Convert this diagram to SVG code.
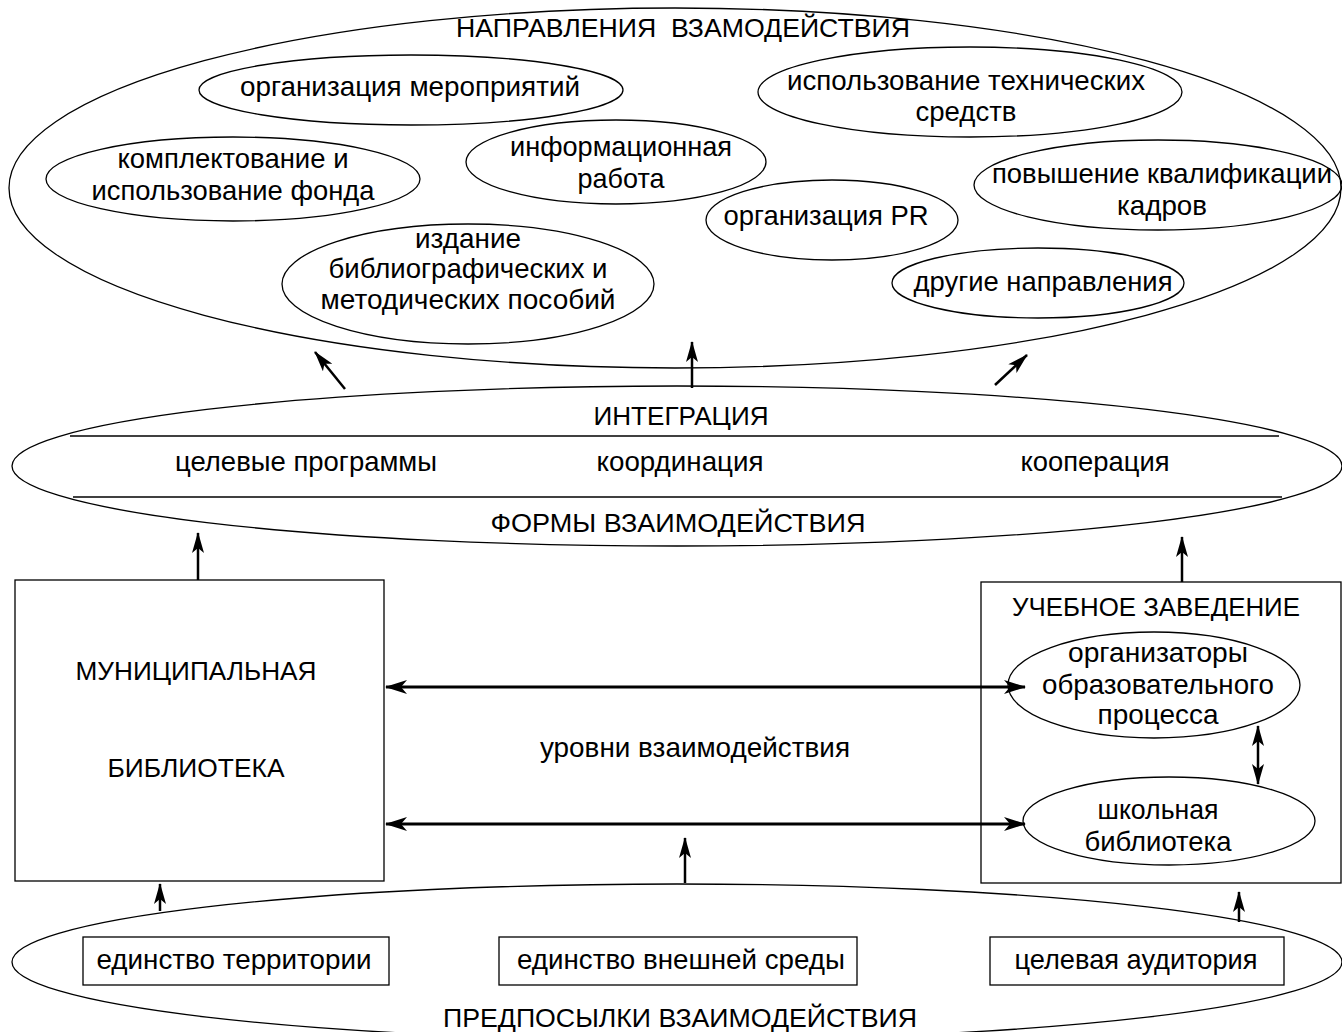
<svg xmlns="http://www.w3.org/2000/svg" width="1342" height="1032" viewBox="0 0 1342 1032">
<style>
.o{fill:none;stroke:#000;stroke-width:1.3}
.b{fill:#fff;stroke:#000;stroke-width:1.3}
text{font-family:"Liberation Sans",Arial,sans-serif;font-size:28px;fill:#000;text-anchor:middle}
.c{font-size:25px}
.a{fill:none;stroke:#000;stroke-width:2.5}
.h{fill:none;stroke:#000;stroke-width:3.2}
</style>
<defs>
<marker id="ar" viewBox="0 0 21 12" refX="20" refY="6" markerWidth="21" markerHeight="12" markerUnits="userSpaceOnUse" orient="auto-start-reverse">
<path d="M21,6 L0,0 L5,6 L0,12 z" fill="#000"/>
</marker>
<marker id="arh" viewBox="0 0 22 14" refX="21" refY="7" markerWidth="22" markerHeight="14" markerUnits="userSpaceOnUse" orient="auto-start-reverse">
<path d="M22,7 L0,0 L6,7 L0,14 z" fill="#000"/>
</marker>
</defs>

<g id="directions">
<ellipse class="o" cx="675" cy="188" rx="666" ry="180"/>
<text class="c" x="683" y="37" textLength="454" lengthAdjust="spacingAndGlyphs" xml:space="preserve">НАПРАВЛЕНИЯ  ВЗАМОДЕЙСТВИЯ</text>
</g>
<g id="d-events">
<ellipse class="o" cx="411" cy="90" rx="212" ry="35"/>
<text x="410" y="96" textLength="340" lengthAdjust="spacingAndGlyphs">организация мероприятий</text>
</g>
<g id="d-tech">
<ellipse class="o" cx="970" cy="92" rx="212" ry="45"/>
<text x="966" y="90" textLength="358" lengthAdjust="spacingAndGlyphs">использование технических</text>
<text x="966" y="121" textLength="101" lengthAdjust="spacingAndGlyphs">средств</text>
</g>
<g id="d-fund">
<ellipse class="o" cx="233" cy="179" rx="187" ry="42"/>
<text x="233" y="168" textLength="231" lengthAdjust="spacingAndGlyphs">комплектование и</text>
<text x="233" y="200" textLength="283" lengthAdjust="spacingAndGlyphs">использование фонда</text>
</g>
<g id="d-info">
<ellipse class="o" cx="616" cy="162" rx="150" ry="42"/>
<text x="621" y="156" textLength="222" lengthAdjust="spacingAndGlyphs">информационная</text>
<text x="621" y="188" textLength="87" lengthAdjust="spacingAndGlyphs">работа</text>
</g>
<g id="d-qual">
<ellipse class="o" cx="1158" cy="185" rx="184" ry="45"/>
<text x="1162" y="183" textLength="340" lengthAdjust="spacingAndGlyphs">повышение квалификации</text>
<text x="1162" y="215" textLength="90" lengthAdjust="spacingAndGlyphs">кадров</text>
</g>
<g id="d-pr">
<ellipse class="o" cx="832" cy="220" rx="126" ry="40"/>
<text x="826" y="225" textLength="205" lengthAdjust="spacingAndGlyphs">организация PR</text>
</g>
<g id="d-publ">
<ellipse class="o" cx="468" cy="284" rx="186" ry="60"/>
<text x="468" y="248" textLength="106" lengthAdjust="spacingAndGlyphs">издание</text>
<text x="468" y="278" textLength="279" lengthAdjust="spacingAndGlyphs">библиографических и</text>
<text x="468" y="309" textLength="295" lengthAdjust="spacingAndGlyphs">методических пособий</text>
</g>
<g id="d-other">
<ellipse class="o" cx="1038" cy="283" rx="146" ry="35"/>
<text x="1043" y="291" textLength="259" lengthAdjust="spacingAndGlyphs">другие направления</text>
</g>

<g id="forms">
<ellipse class="o" cx="677" cy="466" rx="665" ry="80"/>
<line class="o" x1="70" y1="436" x2="1279" y2="436"/>
<line class="o" x1="73" y1="497" x2="1282" y2="497"/>
<text class="c" x="681" y="425" textLength="175" lengthAdjust="spacingAndGlyphs">ИНТЕГРАЦИЯ</text>
<text x="306" y="471" textLength="262" lengthAdjust="spacingAndGlyphs">целевые программы</text>
<text x="680" y="471" textLength="167" lengthAdjust="spacingAndGlyphs">координация</text>
<text x="1095" y="471" textLength="149" lengthAdjust="spacingAndGlyphs">кооперация</text>
<text class="c" x="678" y="532" textLength="375" lengthAdjust="spacingAndGlyphs">ФОРМЫ ВЗАИМОДЕЙСТВИЯ</text>
</g>

<g id="municipal">
<rect class="b" x="15" y="580" width="369" height="301"/>
<text class="c" x="196" y="680" textLength="241" lengthAdjust="spacingAndGlyphs">МУНИЦИПАЛЬНАЯ</text>
<text class="c" x="196" y="777" textLength="177" lengthAdjust="spacingAndGlyphs">БИБЛИОТЕКА</text>
</g>

<g id="school">
<rect class="b" x="981" y="582" width="360" height="301"/>
<text class="c" x="1156" y="616" textLength="288" lengthAdjust="spacingAndGlyphs">УЧЕБНОЕ ЗАВЕДЕНИЕ</text>
</g>
<g id="organizers">
<ellipse class="o" cx="1154" cy="685" rx="146" ry="53"/>
<text x="1158" y="662" textLength="180" lengthAdjust="spacingAndGlyphs">организаторы</text>
<text x="1158" y="694" textLength="232" lengthAdjust="spacingAndGlyphs">образовательного</text>
<text x="1158" y="724" textLength="121" lengthAdjust="spacingAndGlyphs">процесса</text>
</g>
<g id="schoollib">
<ellipse class="o" cx="1169" cy="821" rx="146" ry="44"/>
<text x="1158" y="819" textLength="121" lengthAdjust="spacingAndGlyphs">школьная</text>
<text x="1158" y="851" textLength="147" lengthAdjust="spacingAndGlyphs">библиотека</text>
</g>

<g id="levels">
<text x="695" y="757" textLength="310" lengthAdjust="spacingAndGlyphs">уровни взаимодействия</text>
</g>

<g id="prereq">
<ellipse class="o" cx="677" cy="962" rx="665" ry="78"/>
<text class="c" x="680" y="1027" textLength="474" lengthAdjust="spacingAndGlyphs">ПРЕДПОСЫЛКИ ВЗАИМОДЕЙСТВИЯ</text>
</g>
<g id="p-territory">
<rect class="b" x="83" y="937" width="306" height="48"/>
<text x="234" y="969" textLength="275" lengthAdjust="spacingAndGlyphs">единство территории</text>
</g>
<g id="p-environment">
<rect class="b" x="499" y="937" width="358" height="48"/>
<text x="681" y="969" textLength="328" lengthAdjust="spacingAndGlyphs">единство внешней среды</text>
</g>
<g id="p-audience">
<rect class="b" x="990" y="937" width="294" height="48"/>
<text x="1136" y="969" textLength="243" lengthAdjust="spacingAndGlyphs">целевая аудитория</text>
</g>

<g id="connectors">
<line class="a" x1="345" y1="389" x2="315" y2="352" marker-end="url(#ar)"/>
<line class="a" x1="692" y1="388" x2="692" y2="342" marker-end="url(#ar)"/>
<line class="a" x1="995" y1="385" x2="1027" y2="355" marker-end="url(#ar)"/>
<line class="a" x1="198" y1="580" x2="198" y2="533" marker-end="url(#ar)"/>
<line class="a" x1="1182" y1="582" x2="1182" y2="537" marker-end="url(#ar)"/>
<line class="h" x1="386" y1="687" x2="1025" y2="687" marker-start="url(#arh)" marker-end="url(#arh)"/>
<line class="h" x1="386" y1="824" x2="1025" y2="824" marker-start="url(#arh)" marker-end="url(#arh)"/>
<line class="a" x1="1258" y1="726" x2="1258" y2="784" marker-start="url(#ar)" marker-end="url(#ar)"/>
<line class="a" x1="685" y1="883" x2="685" y2="838" marker-end="url(#ar)"/>
<line class="a" x1="160" y1="911" x2="160" y2="884" marker-end="url(#ar)"/>
<line class="a" x1="1239" y1="922" x2="1239" y2="892" marker-end="url(#ar)"/>
</g>
</svg>
